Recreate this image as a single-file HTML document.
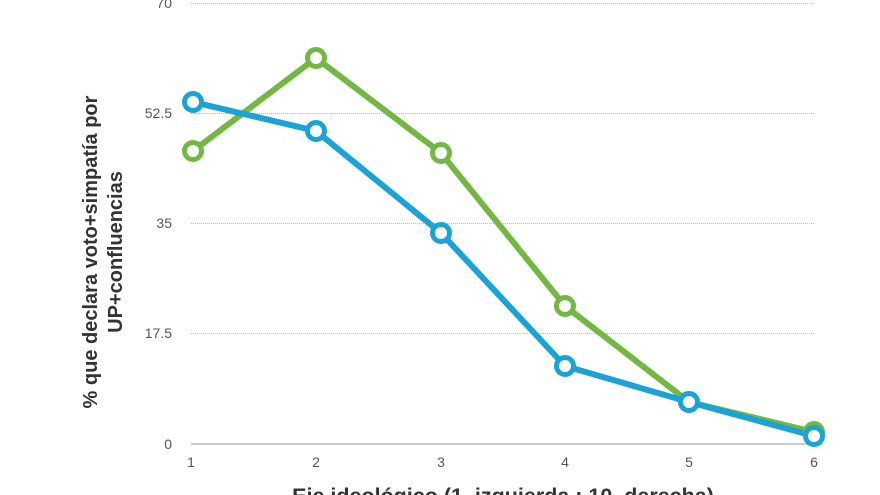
<!DOCTYPE html>
<html><head><meta charset="utf-8"><style>
body{margin:0;background:#fff;}
svg{display:block;font-family:"Liberation Sans",sans-serif;}
</style></head><body>
<svg width="880" height="495" viewBox="0 0 880 495">
<g stroke="#bbb" stroke-width="1" stroke-dasharray="1,1">
<line x1="191" y1="3.5" x2="815" y2="3.5"/>
<line x1="191" y1="113.5" x2="815" y2="113.5"/>
<line x1="191" y1="223.5" x2="815" y2="223.5"/>
<line x1="191" y1="333.5" x2="815" y2="333.5"/>
</g>
<line x1="191" y1="444" x2="815" y2="444" stroke="#bbb" stroke-width="1.5"/>
<g font-size="14" fill="#555" text-anchor="end">
<text x="172" y="8">70</text>
<text x="172" y="118">52.5</text>
<text x="172" y="228">35</text>
<text x="172" y="338">17.5</text>
<text x="172" y="449">0</text>
</g>
<g font-size="14" fill="#555" text-anchor="middle">
<text x="191" y="467">1</text><text x="316" y="467">2</text><text x="441" y="467">3</text>
<text x="565" y="467">4</text><text x="689" y="467">5</text><text x="814" y="467">6</text>
</g>
<text x="503" y="503" font-size="21.5" font-weight="bold" fill="#333" text-anchor="middle">Eje ideológico (1, izquierda : 10, derecha)</text>
<g transform="translate(100,252) rotate(-90)" font-size="20" font-weight="bold" fill="#333" text-anchor="middle">
<text x="0" y="-3">% que declara voto+simpatía por</text>
<text x="0" y="22">UP+confluencias</text>
</g>
<g fill="none" stroke-width="6" stroke-linejoin="round">
<polyline stroke="#72b843" points="193,151 316,58 441,153 565,306 689,402 814,432"/>
<polyline stroke="#1ca3d6" points="193,102 316,131 441,233 565,366 689,402 814,436"/>
</g>
<g fill="#fff" stroke-width="5">
<g stroke="#72b843">
<circle cx="193" cy="151" r="8.5"/><circle cx="316" cy="58" r="8.5"/><circle cx="441" cy="153" r="8.5"/>
<circle cx="565" cy="306" r="8.5"/><circle cx="689" cy="402" r="8.5"/><circle cx="814" cy="432" r="8.5"/>
</g>
<g stroke="#1ca3d6">
<circle cx="193" cy="102" r="8.5"/><circle cx="316" cy="131" r="8.5"/><circle cx="441" cy="233" r="8.5"/>
<circle cx="565" cy="366" r="8.5"/><circle cx="689" cy="402" r="8.5"/><circle cx="814" cy="436" r="8.5"/>
</g>
</g>
</svg>
</body></html>
